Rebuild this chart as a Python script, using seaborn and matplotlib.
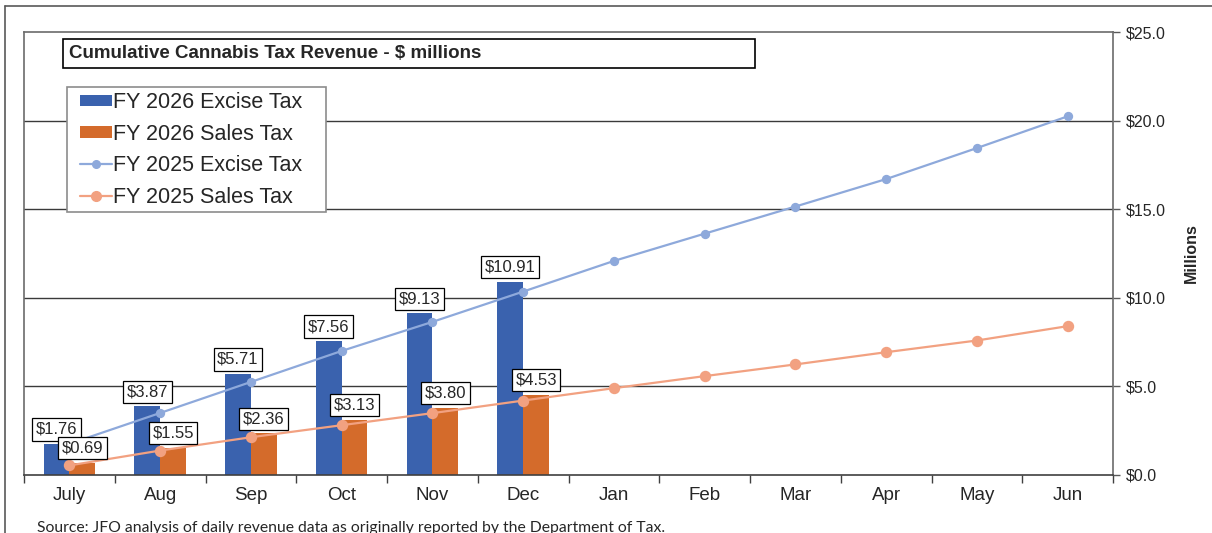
import matplotlib
matplotlib.use("Agg")
import matplotlib.pyplot as plt
import seaborn as sns
import pandas as pd
from matplotlib.patches import Patch, Rectangle
from matplotlib.lines import Line2D
from matplotlib.ticker import FuncFormatter, FixedLocator

months = ["July", "Aug", "Sep", "Oct", "Nov", "Dec", "Jan", "Feb", "Mar", "Apr", "May", "Jun"]
fy26_excise = [1.76, 3.87, 5.71, 7.56, 9.13, 10.91]
fy26_sales = [0.69, 1.55, 2.36, 3.13, 3.80, 4.53]
fy25_excise = [1.76, 3.50, 5.25, 7.00, 8.64, 10.35, 12.08, 13.62, 15.15, 16.70, 18.45, 20.24]
fy25_sales = [0.54, 1.38, 2.13, 2.81, 3.49, 4.20, 4.90, 5.58, 6.24, 6.93, 7.59, 8.40]
series_names = ["FY 2026 Excise Tax", "FY 2026 Sales Tax", "FY 2025 Excise Tax", "FY 2025 Sales Tax"]
title = "Cumulative Cannabis Tax Revenue - $ millions"
source = "Source: JFO analysis of daily revenue data as originally reported by the Department of Tax."

c_bar_blue = "#3A62AE"
c_bar_orange = "#D46B2B"
c_line_blue = "#8EA9DB"
c_line_orange = "#F2A181"

sns.set_style("white")
plt.rcParams["font.family"] = ["Liberation Sans", "DejaVu Sans"]

W, H = 1212, 533
fig = plt.figure(figsize=(W / 100, H / 100), dpi=100)
ax = fig.add_axes([24 / W, 1 - 475 / H, (1113 - 24) / W, (475 - 32) / H])

bars = pd.DataFrame({
    "month": months[:6] * 2,
    "value": fy26_excise + fy26_sales,
    "series": [series_names[0]] * 6 + [series_names[1]] * 6,
})
sns.barplot(data=bars, x="month", y="value", hue="series", order=months,
            hue_order=series_names[:2], palette=[c_bar_blue, c_bar_orange],
            width=0.57, gap=0, linewidth=0, saturation=1, legend=False, ax=ax, zorder=2)

line_e = pd.DataFrame({"month": months, "value": fy25_excise})
line_s = pd.DataFrame({"month": months, "value": fy25_sales})
sns.pointplot(data=line_e, x="month", y="value", order=months, color=c_line_blue,
              markers="o", linestyles="-", markersize=5.5, linewidth=1.6,
              errorbar=None, ax=ax, zorder=4)
sns.pointplot(data=line_s, x="month", y="value", order=months, color=c_line_orange,
              markers="o", linestyles="-", markersize=7, linewidth=1.6,
              errorbar=None, ax=ax, zorder=4)

for cont in ax.containers:
    ax.bar_label(cont, fmt="${:.2f}", padding=5, fontsize=12, zorder=6,
                 bbox=dict(boxstyle="square,pad=0.22", fc="white", ec="black", lw=0.9))

ax.set_xlim(-0.5, 11.5)
ax.set_ylim(0, 25)
ax.set_xlabel("")
ax.yaxis.tick_right()
ax.yaxis.set_label_position("right")
ax.set_yticks([0, 5, 10, 15, 20, 25])
ax.yaxis.set_major_formatter(FuncFormatter(lambda v, p: f"${v:.1f}"))
ax.set_ylabel("Millions", fontsize=11.5, fontweight="bold", labelpad=13)
ax.tick_params(axis="y", which="major", direction="out", length=5, width=1,
               color="#595959", labelsize=11.5, pad=4, right=True, left=False)
ax.tick_params(axis="x", which="major", length=0, labelsize=13.5, pad=9)
ax.xaxis.set_minor_locator(FixedLocator([i - 0.5 for i in range(13)]))
ax.tick_params(axis="x", which="minor", direction="out", length=6, width=1,
               color="#404040", bottom=True)
for yv in [5, 10, 15, 20]:
    ax.axhline(yv, color="#3a3a3a", lw=1, zorder=1)
for side, sp in ax.spines.items():
    sp.set_visible(True)
    sp.set_color("#6b6b6b")
    sp.set_linewidth(1.2)
ax.spines["bottom"].set_color("#404040")
ax.grid(False)

# outer frame lines
fig.add_artist(Line2D([5 / W, 1], [1 - 6 / H, 1 - 6 / H], transform=fig.transFigure, color="#595959", lw=1.2))
fig.add_artist(Line2D([5 / W, 5 / W], [0, 1 - 6 / H], transform=fig.transFigure, color="#595959", lw=1.2))

# title box
fig.add_artist(Rectangle((63 / W, 1 - 68 / H), (755 - 63) / W, (68 - 39) / H,
                         transform=fig.transFigure, fc="white", ec="black", lw=1.2, zorder=5))
fig.text(69 / W, 1 - 54 / H, title, fontsize=13.5, fontweight="bold", va="center", ha="left", zorder=6)

# legend frame drawn as its own box
fig.add_artist(Rectangle((67 / W, 1 - 212 / H), (326 - 67) / W, (212 - 87) / H,
                         transform=fig.transFigure, fc="white", ec="#8c8c8c", lw=1.2, zorder=6))
handles = [
    Patch(facecolor=c_bar_blue, edgecolor="none"),
    Patch(facecolor=c_bar_orange, edgecolor="none"),
    Line2D([], [], color=c_line_blue, marker="o", markersize=5.5, lw=1.6),
    Line2D([], [], color=c_line_orange, marker="o", markersize=7, lw=1.6),
]
leg = fig.legend(handles, series_names, loc="upper left", bbox_to_anchor=(80 / W, 1 - 92 / H),
                 bbox_transform=fig.transFigure, borderaxespad=0, fontsize=15.5, frameon=False,
                 handlelength=1.5, handleheight=0.45, handletextpad=0.05,
                 labelspacing=0.49, borderpad=0)
leg.set_zorder(7)

fig.text(37 / W, 1 - 532 / H, source, fontsize=11.3, family=["Lato", "DejaVu Sans"],
         va="baseline", ha="left")

fig.savefig("out.png", dpi=100)
